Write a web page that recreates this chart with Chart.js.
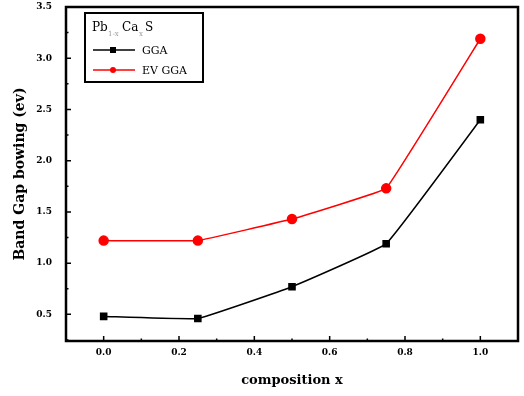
<!DOCTYPE html>
<html lang="en">
<head>
<meta charset="UTF-8"/>
<title>Band gap bowing</title>
<script src="https://cdn.jsdelivr.net/npm/chart.js@4.4.0/dist/chart.umd.min.js"></script>
<style>
  body { margin: 0; background: #fff; }
  #wrap { width: 524px; height: 396px; }
</style>
</head>
<body>
<div id="wrap"><canvas id="chart" width="524" height="396"></canvas></div>
<script>
const compositions = [0.0, 0.25, 0.5, 0.75, 1.0];
const ggaValues = [0.48, 0.46, 0.77, 1.19, 2.40];
const evggaValues = [1.22, 1.22, 1.43, 1.73, 3.19];
const xTicks = [0.0, 0.2, 0.4, 0.6, 0.8, 1.0];
const yTicks = [0.5, 1.0, 1.5, 2.0, 2.5, 3.0, 3.5];

const serif = '"DejaVu Serif", "Liberation Serif", serif';

// frame, inward ticks and the legend box
const framePlugin = {
  id: 'frame',
  afterDraw(chart) {
    const ctx = chart.ctx;
    const a = chart.chartArea;
    const xs = chart.scales.x, ys = chart.scales.y;
    ctx.save();
    ctx.strokeStyle = '#000';
    ctx.lineWidth = 2.5;
    ctx.strokeRect(a.left, a.top, a.right - a.left, a.bottom - a.top);

    ctx.lineWidth = 1.5;
    ctx.beginPath();
    xTicks.forEach(v => {
      const px = xs.getPixelForValue(v);
      ctx.moveTo(px, a.bottom); ctx.lineTo(px, a.bottom - 5);
      const mx = xs.getPixelForValue(v + 0.1);
      if (v < 1.0) { ctx.moveTo(mx, a.bottom); ctx.lineTo(mx, a.bottom - 2.5); }
    });
    yTicks.forEach(v => {
      const py = ys.getPixelForValue(v);
      ctx.moveTo(a.left, py); ctx.lineTo(a.left + 5, py);
      const my = ys.getPixelForValue(v - 0.25);
      ctx.moveTo(a.left, my); ctx.lineTo(a.left + 2.5, my);
    });
    ctx.stroke();

    // legend
    const lx = 85, ly = 13;
    ctx.lineWidth = 2;
    ctx.strokeRect(lx, ly, 118, 69);
    ctx.fillStyle = '#000';
    ctx.textBaseline = 'alphabetic';
    ctx.font = '12px ' + serif;
    ctx.fillText('Pb', 92, 31);
    ctx.fillText('Ca', 122, 31);
    ctx.fillText('S', 145, 31);
    ctx.font = '7px ' + serif;
    ctx.fillStyle = '#999';
    ctx.fillText('1-x', 108, 36);
    ctx.fillText('x', 139, 36);

    const rows = [
      {label: 'GGA', color: '#000', style: 'rect', y: 50},
      {label: 'EV GGA', color: '#ff0000', style: 'circle', y: 70}
    ];
    rows.forEach(r => {
      ctx.strokeStyle = r.color;
      ctx.fillStyle = r.color;
      ctx.lineWidth = 1.5;
      ctx.beginPath();
      ctx.moveTo(93, r.y); ctx.lineTo(135, r.y);
      ctx.stroke();
      if (r.style === 'rect') ctx.fillRect(110, r.y - 3, 6, 6);
      else { ctx.beginPath(); ctx.arc(113, r.y, 3, 0, Math.PI * 2); ctx.fill(); }
      ctx.fillStyle = '#000';
      ctx.font = '11px ' + serif;
      ctx.fillText(r.label, 142, r.y + 4);
    });
    ctx.restore();
  }
};

new Chart(document.getElementById('chart'), {
  type: 'line',
  data: {
    datasets: [
      {
        label: 'GGA',
        data: compositions.map((x, i) => ({x: x, y: ggaValues[i]})),
        borderColor: '#000',
        backgroundColor: '#000',
        borderWidth: 1.5,
        pointStyle: 'rect',
        pointRadius: 4.3,
        tension: 0.08
      },
      {
        label: 'EV GGA',
        data: compositions.map((x, i) => ({x: x, y: evggaValues[i]})),
        borderColor: '#ff0000',
        backgroundColor: '#ff0000',
        borderWidth: 1.5,
        pointStyle: 'circle',
        pointRadius: 4.5,
        tension: 0.05
      }
    ]
  },
  options: {
    responsive: false,
    animation: false,
    layout: { padding: { left: 0, right: 4, top: 7, bottom: 0 } },
    plugins: { legend: { display: false }, tooltip: { enabled: false } },
    scales: {
      x: {
        type: 'linear',
        min: -0.1,
        max: 1.1,
        afterBuildTicks: s => { s.ticks = xTicks.map(v => ({value: v})); },
        afterFit: s => { s.height = 55; s.paddingLeft = 0; s.paddingRight = 0; },
        // tick marks are drawn inward by the plugin; tickLength only spaces the labels
        grid: { display: false, drawTicks: true, tickLength: 5 },
        border: { display: false },
        ticks: {
          padding: 1,
          color: '#000',
          font: { family: serif, size: 9, weight: 'bold' },
          callback: v => v.toFixed(1)
        },
        title: {
          display: true,
          text: 'composition x',
          color: '#000',
          font: { family: serif, size: 13, weight: 'bold' },
          padding: { top: 0, bottom: 8 }
        }
      },
      y: {
        type: 'linear',
        min: 0.24,
        max: 3.5,
        afterBuildTicks: s => { s.ticks = yTicks.map(v => ({value: v})); },
        afterFit: s => { s.width = 66; s.paddingTop = 0; s.paddingBottom = 0; },
        grid: { display: false, drawTicks: true, tickLength: 12 },
        border: { display: false },
        ticks: {
          padding: 2,
          color: '#000',
          font: { family: serif, size: 9, weight: 'bold' },
          callback: v => v.toFixed(1)
        },
        title: {
          display: true,
          text: 'Band Gap bowing (ev)',
          color: '#000',
          font: { family: serif, size: 14, weight: 'bold' },
          padding: { top: 12, bottom: 0 }
        }
      }
    }
  },
  plugins: [framePlugin]
});
</script>
</body>
</html>
